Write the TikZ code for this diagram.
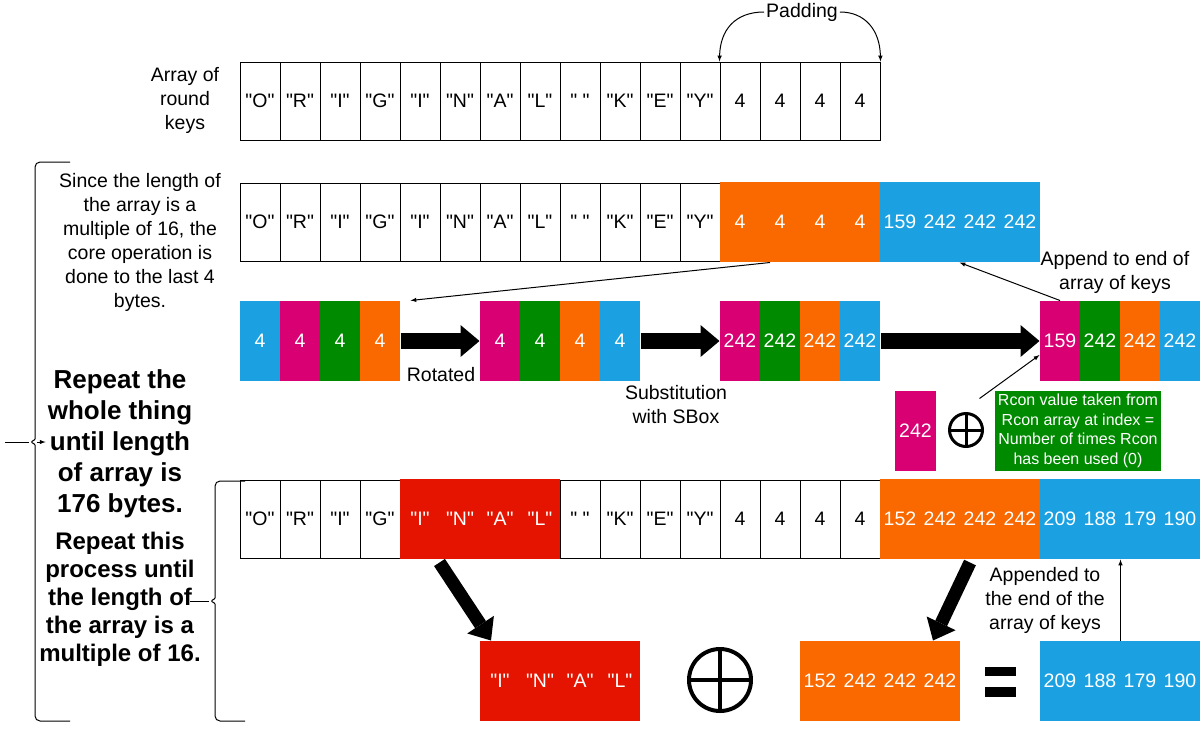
\documentclass[tikz,border=0pt]{standalone}
\usepackage{fontspec}
\setmainfont{Liberation Sans}[Ligatures=TeXOff]
\usetikzlibrary{arrows.meta}
\definecolor{keyorange}{HTML}{FA6800}
\definecolor{keyblue}{HTML}{1BA1E2}
\definecolor{keypink}{HTML}{D80073}
\definecolor{keygreen}{HTML}{008A00}
\definecolor{keyred}{HTML}{E51400}
\newcommand\keycells[5]{
  \foreach \txt [count=\idx] in {#5} {
    \node[#4] (#3\idx) at (#1+40*\idx-20, #2) {\txt};
  }
}
\newcommand\colcells[4]{
  \foreach \col/\txt [count=\idx] in {#4} {
    \node[colcell, fill=\col] (#3\idx) at (#1+40*\idx-20, #2) {\txt};
  }
}
\tikzset{
  cell/.style={draw, line width=1pt, minimum width=40pt, minimum height=78pt, inner sep=0pt, font=\fontsize{19.5}{23}\selectfont},
  colcell/.style={cell, draw=none, minimum height=80pt, text=white},
  orangecell/.style={colcell, fill=keyorange},
  bluecell/.style={colcell, fill=keyblue},
  redcell/.style={colcell, fill=keyred},
  note/.style={align=center, inner sep=2pt, font=\fontsize{19.5}{24}\selectfont},
  bignote/.style={align=center, inner sep=2pt, font=\bfseries\fontsize{26}{31}\selectfont},
  midnote/.style={align=center, inner sep=2pt, font=\bfseries\fontsize{24}{28}\selectfont},
  xorsign/.style={circle, draw, line width=#1, inner sep=0pt,
    path picture={\draw[line width=#1] (path picture bounding box.north) -- (path picture bounding box.south)
      (path picture bounding box.west) -- (path picture bounding box.east);}},
  bigarrow/.style={line width=16pt, -{Triangle[length=19pt, width=32pt, line width=0pt]}},
  thinarrow/.style={line width=1pt, -latex},
  brace/.style={line width=1pt, rounded corners=5pt}
}

\begin{document}
\begin{tikzpicture}[x=1pt, y=-1pt]
  \useasboundingbox (0,0) rectangle (1202,748);

  \node[note] (roundkeys) at (185,100) {Array of\\round\\keys};
  \keycells{240}{101}{r1-}{cell}{"O","R","I","G","I","N","A","L"," ","K","E","Y",4,4,4,4}
  \node[note] (padding) at (802,12) {Padding};
  \draw[thinarrow] (padding.west) .. controls (735,12) and (720,30) .. (r1-13.north west);
  \draw[thinarrow] (padding.east) .. controls (865,12) and (880,30) .. (r1-16.north east);

  \keycells{240}{222}{r2-}{cell}{"O","R","I","G","I","N","A","L"," ","K","E","Y"}
  \keycells{720}{222}{r2o-}{orangecell}{4,4,4,4}
  \keycells{880}{222}{r2b-}{bluecell}{159,242,242,242}

  \colcells{240}{341}{rA-}{keyblue/4,keypink/4,keygreen/4,keyorange/4}
  \colcells{480}{341}{rB-}{keypink/4,keygreen/4,keyorange/4,keyblue/4}
  \colcells{720}{341}{rC-}{keypink/242,keygreen/242,keyorange/242,keyblue/242}
  \colcells{1040}{341}{rD-}{keypink/159,keygreen/242,keyorange/242,keyblue/242}
  \draw[bigarrow] (rA-4.east) -- (rB-1.west);
  \draw[bigarrow] (rB-4.east) -- (rC-1.west);
  \draw[bigarrow] (rC-4.east) -- (rD-1.west);
  \node[note] (rotated) at (441,375) {Rotated};
  \node[note] (sbox) at (676,405) {Substitution\\with SBox};
  \node[note] (append) at (1115,272) {Append to end of\\array of keys};
  \draw[thinarrow] ([xshift=-10pt]r2o-2.south) -- ([xshift=10pt]rA-4.north east);
  \draw[thinarrow] (rD-1.north) -- (r2b-3.south west);

  \node[colcell, fill=keypink, minimum width=41pt] (rconval) at (915.5,431) {242};
  \node[xorsign=3pt, minimum size=33pt] (xortop) at (966,430) {};
  \node[colcell, fill=keygreen, minimum width=166pt, align=center, font=\fontsize{16}{19.5}\selectfont] (rcon) at (1078,431)
    {Rcon value taken from\\Rcon array at index =\\Number of times Rcon\\has been used (0)};
  \draw[thinarrow] ([shift={(-15pt,-8pt)}]rcon.north west) -- ([yshift=-14pt]rD-1.west);

  \keycells{240}{519}{r4w-}{cell}{"O","R","I","G"}
  \keycells{400}{519}{r4r-}{redcell}{"I","N","A","L"}
  \keycells{560}{519}{r4x-}{cell}{" ","K","E","Y",4,4,4,4}
  \keycells{880}{519}{r4o-}{orangecell}{152,242,242,242}
  \keycells{1040}{519}{r4b-}{bluecell}{209,188,179,190}

  \keycells{480}{681}{bR-}{redcell}{"I","N","A","L"}
  \node[xorsign=4pt, minimum size=62pt] (xorbot) at (720,680) {};
  \keycells{800}{681}{bO-}{orangecell}{152,242,242,242}
  \fill (985,667) rectangle (1016,676);
  \fill (985,687) rectangle (1016,697);
  \keycells{1040}{681}{bB-}{bluecell}{209,188,179,190}
  \draw[bigarrow, line width=13pt] ([yshift=-3pt]r4r-2.south west) -- ([xshift=-9pt]bR-1.north);
  \draw[bigarrow, line width=13pt] ([shift={(-10pt,-3pt)}]r4o-3.south) -- ([xshift=-7pt]bO-4.north);
  \node[note] (appended) at (1045,600) {Appended to\\the end of the\\array of keys};
  \draw[thinarrow] (bB-2.north east) -- (r4b-2.south east);

  \node[note] (corenote) at (140,242) {Since the length of\\the array is a\\multiple of 16, the\\core operation is\\done to the last 4\\bytes.};
  \node[bignote] (wholenote) at (120,444) {Repeat the\\whole thing\\until length\\of array is\\176 bytes.};
  \node[midnote] (multnote) at (120,599) {Repeat this\\process until\\the length of\\the array is a\\multiple of 16.};

  \coordinate (wholein) at (5,442);
  \coordinate (wholetip) at (29,442);
  \coordinate (wholeout) at (37,442);
  \draw[brace] (70,162) -| (35,434) .. controls (35,440) .. (wholetip) .. controls (35,444) .. (35,450) |- (70,721);
  \draw[line width=1pt] (wholein) -- (wholetip);
  \draw[thinarrow] (wholeout) -- (wholenote.west |- wholeout);

  \coordinate (multout) at (190,601);
  \coordinate (multtip) at (209,601);
  \draw[brace] (245,481) -| (215,593) .. controls (215,599) .. (multtip) .. controls (215,603) .. (215,609) |- (245,721);
  \draw[line width=1pt] (multout) -- (multtip);
\end{tikzpicture}
\end{document}
